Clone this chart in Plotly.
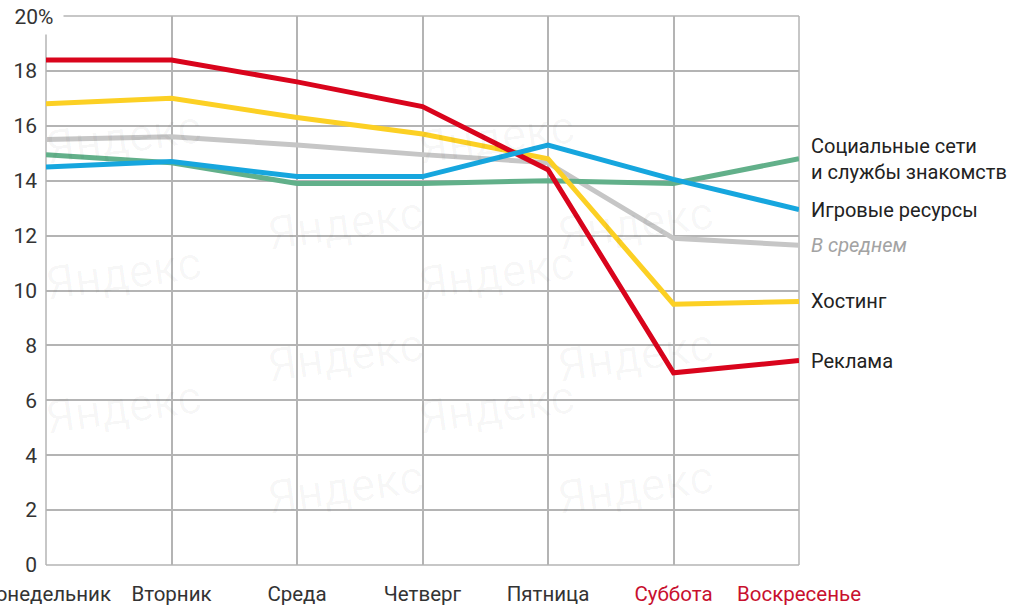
import plotly.graph_objects as go

days = ["Понедельник", "Вторник", "Среда", "Четверг", "Пятница", "Суббота", "Воскресенье"]
weekend = [False, False, False, False, False, True, True]
y_ticks = [0, 2, 4, 6, 8, 10, 12, 14, 16, 18, 20]

reklama = [18.4, 18.4, 17.6, 16.7, 14.4, 7.0, 7.45]
hosting = [16.8, 17.0, 16.3, 15.7, 14.8, 9.5, 9.6]
average = [15.5, 15.6, 15.3, 14.95, 14.65, 11.9, 11.65]
social = [14.95, 14.65, 13.9, 13.9, 14.0, 13.9, 14.8]
games = [14.5, 14.7, 14.15, 14.15, 15.3, 14.05, 12.95]

series = [
    ("В среднем", average, "#c6c6c6"),
    ("Социальные сети<br>и службы знакомств", social, "#62b08a"),
    ("Хостинг", hosting, "#fcd024"),
    ("Реклама", reklama, "#d9041c"),
    ("Игровые ресурсы", games, "#16a6de"),
]

FONT = "Roboto, 'Open Sans', sans-serif"
GRID = "#b4b4b4"
x = list(range(len(days)))

fig = go.Figure()
for name, vals, col in series:
    fig.add_trace(go.Scatter(x=x, y=vals, mode="lines", name=name,
                             line=dict(color=col, width=5),
                             cliponaxis=False, showlegend=False,
                             hoverinfo="skip"))

ticktext = [f"<span style='color:#c8102e'>{d}</span>" if w else d
            for d, w in zip(days, weekend)]

# faint watermarks (pixel centres)
W, H = 1011, 606
L, R, T, B = 46, 212, 16, 41
pw, ph = W - L - R, H - T - B
marks = [(40, 97), (496, 97), (40, 273), (496, 273), (40, 447), (496, 447),
         (262, 183), (719, 183), (262, 355), (719, 355), (262, 527), (719, 527)]
anns = []
for px, py in marks:
    anns.append(dict(text="Яндекс", xref="paper", yref="paper",
                     x=(px - L) / pw, y=(H - B - py) / ph,
                     showarrow=False, textangle=-8,
                     font=dict(family="'Liberation Sans Narrow', Roboto, sans-serif",
                               size=46, color="rgba(0,0,0,0.03)")))

# right-side labels at Sunday values
for name, vals, col in series:
    italic = name == "В среднем"
    anns.append(dict(text=f"<i>{name}</i>" if italic else name,
                     x=x[-1], y=vals[-1], xref="x", yref="y",
                     xanchor="left", yanchor="middle", xshift=10,
                     showarrow=False, align="left",
                     font=dict(family=FONT, size=20,
                               color="#a3a3a3" if italic else "#222222")))

# top "20%" label covering the corner
anns.append(dict(text="20%", x=0, y=20, xref="x", yref="y",
                 xanchor="right", yanchor="middle", xshift=18,
                 width=56, height=33, bgcolor="white", showarrow=False,
                 font=dict(family=FONT, size=21, color="#333333")))

# plot frame (edges of the grid)
shapes = [
    dict(type="line", xref="paper", yref="paper", x0=0, x1=1, y0=0, y1=0),
    dict(type="line", xref="paper", yref="paper", x0=0, x1=1, y0=1, y1=1),
    dict(type="line", xref="paper", yref="paper", x0=0, x1=0, y0=0, y1=1),
    dict(type="line", xref="paper", yref="paper", x0=1, x1=1, y0=0, y1=1),
]
for s in shapes:
    s.update(layer="below", line=dict(color=GRID, width=1.5))

fig.update_layout(
    width=W, height=H,
    margin=dict(l=L, r=R, t=T, b=B, autoexpand=False),
    paper_bgcolor="white", plot_bgcolor="white",
    font=dict(family=FONT, size=20, color="#333333"),
    xaxis=dict(range=[0, 6], tickvals=x, ticktext=ticktext,
               showgrid=True, gridcolor=GRID, gridwidth=1.5,
               zeroline=False, showline=False, ticks="",
               automargin=False, ticklabeloverflow="allow",
               ticklabelstandoff=14,
               tickfont=dict(family=FONT, size=20.5, color="#333333")),
    yaxis=dict(range=[0, 20], tickvals=y_ticks,
               ticktext=[str(v) if v < 20 else "" for v in y_ticks],
               showgrid=True, gridcolor=GRID, gridwidth=1.5,
               zeroline=False, showline=False, ticks="",
               automargin=False, ticklabeloverflow="allow",
               ticklabelstandoff=8,
               tickfont=dict(family=FONT, size=21, color="#333333")),
    annotations=anns,
    shapes=shapes,
)

fig.write_html("out.html", config={"displayModeBar": False},
               post_script="document.body.style.margin='0';"
                           "document.body.style.overflow='hidden';")
